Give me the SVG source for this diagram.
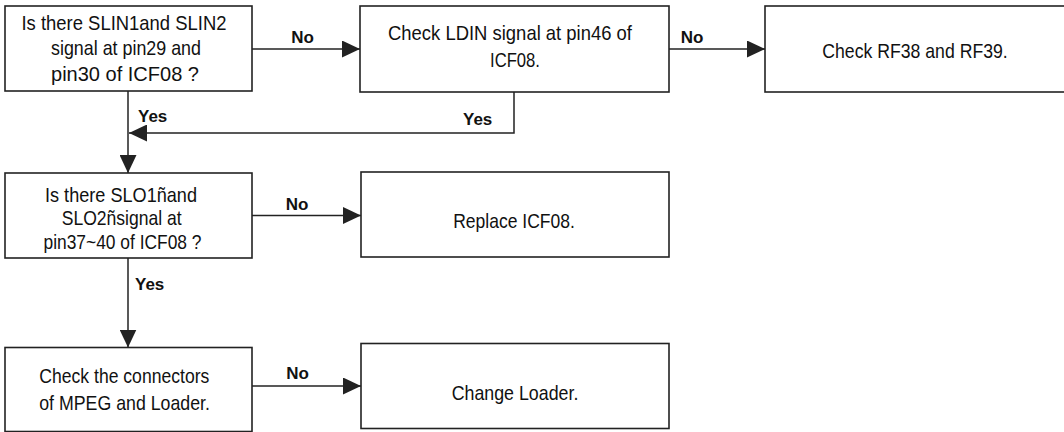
<svg xmlns="http://www.w3.org/2000/svg" width="1064" height="432" viewBox="0 0 1064 432">
<style>
.box{fill:#fff;stroke:#222;stroke-width:1.6}
.t{font-family:"Liberation Sans Narrow","Liberation Sans",Arial,sans-serif;font-size:21px;fill:#111;text-anchor:middle}
.lbl{font-family:"Liberation Sans",Arial,sans-serif;font-size:17px;font-weight:bold;fill:#111}
.c{fill:none;stroke:#222;stroke-width:1.5}
</style>
<defs>
<marker id="ah" markerUnits="userSpaceOnUse" markerWidth="18" markerHeight="17" refX="18" refY="8.5" orient="auto">
<path d="M0,0 L18,8.5 L0,17 z" fill="#222"/>
</marker>
</defs>
<rect width="1064" height="432" fill="#fff"/>
<g id="connectors">
<path class="c" d="M252,49 H360" marker-end="url(#ah)"/>
<path class="c" d="M669,49 H765" marker-end="url(#ah)"/>
<path class="c" d="M128,91 V173" marker-end="url(#ah)"/>
<path class="c" d="M514,92 V133 H129" marker-end="url(#ah)"/>
<path class="c" d="M252,215.5 H361" marker-end="url(#ah)"/>
<path class="c" d="M128,258 V347.5" marker-end="url(#ah)"/>
<path class="c" d="M252,386 H361" marker-end="url(#ah)"/>
<text class="lbl" x="302.5" y="43" text-anchor="middle">No</text>
<text class="lbl" x="692" y="43" text-anchor="middle">No</text>
<text class="lbl" x="297" y="209.5" text-anchor="middle">No</text>
<text class="lbl" x="297.5" y="379" text-anchor="middle">No</text>
<text class="lbl" x="138" y="122">Yes</text>
<text class="lbl" x="463" y="125">Yes</text>
<text class="lbl" x="135" y="290">Yes</text>
</g>
<g id="n1">
<rect class="box" x="5" y="6" width="247" height="85"/>
<text class="t" x="124" y="30" textLength="205" lengthAdjust="spacingAndGlyphs">Is there SLIN1and SLIN2</text>
<text class="t" x="126" y="55" textLength="150" lengthAdjust="spacingAndGlyphs">signal at pin29 and</text>
<text class="t" x="125" y="80.5" textLength="148" lengthAdjust="spacingAndGlyphs">pin30 of ICF08 ?</text>
</g>
<g id="n2">
<rect class="box" x="360" y="6" width="309" height="86"/>
<text class="t" x="510" y="40" textLength="244" lengthAdjust="spacingAndGlyphs">Check LDIN signal at pin46 of</text>
<text class="t" x="515" y="67" textLength="50" lengthAdjust="spacingAndGlyphs">ICF08.</text>
</g>
<g id="n3">
<rect class="box" x="765" y="6" width="302" height="86"/>
<text class="t" x="915" y="58" textLength="185.5" lengthAdjust="spacingAndGlyphs">Check RF38 and RF39.</text>
</g>
<g id="n4">
<rect class="box" x="5" y="173" width="247" height="85"/>
<text class="t" x="121" y="202" textLength="152" lengthAdjust="spacingAndGlyphs">Is there SLO1ñand</text>
<text class="t" x="121.7" y="225" textLength="120" lengthAdjust="spacingAndGlyphs">SLO2ñsignal at</text>
<text class="t" x="122.5" y="249" textLength="158" lengthAdjust="spacingAndGlyphs">pin37~40 of ICF08 ?</text>
</g>
<g id="n5">
<rect class="box" x="361" y="172" width="308" height="85"/>
<text class="t" x="514" y="228" textLength="121.7" lengthAdjust="spacingAndGlyphs">Replace ICF08.</text>
</g>
<g id="n6">
<rect class="box" x="5" y="347.5" width="247" height="84"/>
<text class="t" x="124.3" y="383" textLength="170" lengthAdjust="spacingAndGlyphs">Check the connectors</text>
<text class="t" x="124.6" y="410" textLength="170.7" lengthAdjust="spacingAndGlyphs">of MPEG and Loader.</text>
</g>
<g id="n7">
<rect class="box" x="361" y="343.5" width="308" height="85"/>
<text class="t" x="515" y="400" textLength="126.7" lengthAdjust="spacingAndGlyphs">Change Loader.</text>
</g>
</svg>
